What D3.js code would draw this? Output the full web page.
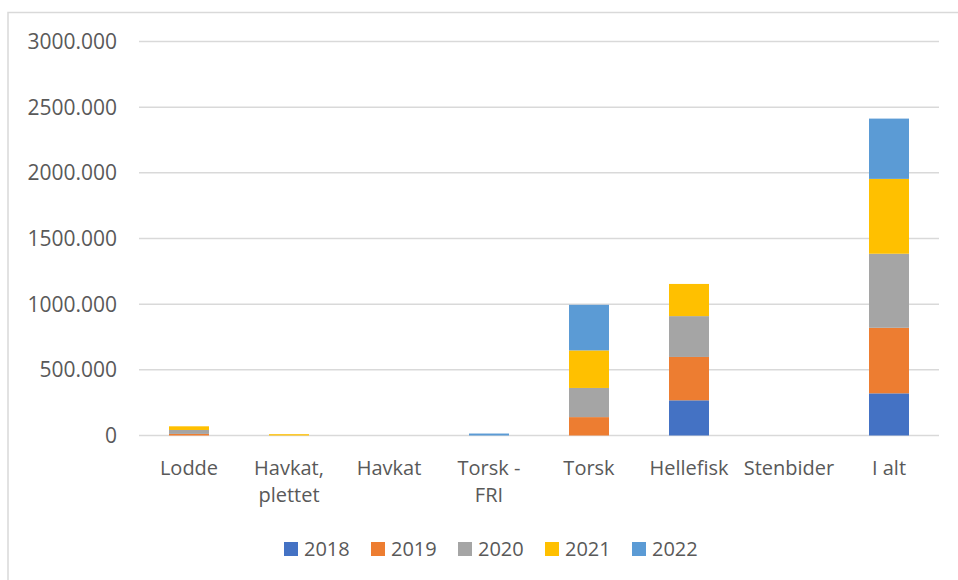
<!DOCTYPE html>
<html>
<head>
<meta charset="utf-8">
<script src="https://cdn.jsdelivr.net/npm/d3@7"></script>
<style>
  body { margin: 0; background: #fff; }
  svg { display: block; font-family: "Open Sans", sans-serif; }
</style>
</head>
<body>
<div id="chart"></div>
<script>
// categories and yearly values
const categories = ["Lodde", "Havkat, plettet", "Havkat", "Torsk - FRI", "Torsk", "Hellefisk", "Stenbider", "I alt"];
const catLabels = [["Lodde"], ["Havkat,", "plettet"], ["Havkat"], ["Torsk -", "FRI"], ["Torsk"], ["Hellefisk"], ["Stenbider"], ["I alt"]];
const years = ["2018", "2019", "2020", "2021", "2022"];
const colors = ["#4472c4", "#ed7d31", "#a5a5a5", "#ffc000", "#5b9bd5"];

const v2018 = [0, 0, 0, 0, 0, 268, 0, 321];
const v2019 = [12, 0, 0, 0, 140, 330, 0, 499];
const v2020 = [30, 0, 0, 0, 222, 311, 0, 564];
const v2021 = [28, 10, 0, 0, 286, 245, 0, 570];
const v2022 = [0, 0, 0, 15, 347, 0, 0, 459];

const yTicks = [0, 500, 1000, 1500, 2000, 2500, 3000];

const W = 958, H = 580;
const MARGIN = { LEFT: 139, RIGHT: 19, TOP: 41.5, BOTTOM: 144.5 };
const WIDTH = W - MARGIN.LEFT - MARGIN.RIGHT;
const HEIGHT = H - MARGIN.TOP - MARGIN.BOTTOM;

const svg = d3.select("#chart").append("svg")
  .attr("width", W)
  .attr("height", H);

// chart frame
svg.append("rect")
  .attr("x", 8).attr("y", 12.5)
  .attr("width", W + 10).attr("height", H + 10)
  .attr("fill", "none")
  .attr("stroke", "#d9d9d9")
  .attr("stroke-width", 1.5);

const g = svg.append("g")
  .attr("transform", `translate(${MARGIN.LEFT}, ${MARGIN.TOP})`);

// Scales
const x = d3.scaleBand().domain(categories).range([0, WIDTH]).paddingInner(0.6).paddingOuter(0.3);
const y = d3.scaleLinear().domain([0, 3000]).range([HEIGHT, 0]);

// gridlines
g.selectAll(".grid")
  .data(yTicks)
  .join("line")
  .attr("class", "grid")
  .attr("x1", 0).attr("x2", WIDTH)
  .attr("y1", d => y(d)).attr("y2", d => y(d))
  .attr("stroke", "#d9d9d9")
  .attr("stroke-width", 1.5);

// y labels
g.selectAll(".ylab")
  .data(yTicks)
  .join("text")
  .attr("class", "ylab")
  .attr("x", -22)
  .attr("y", d => y(d))
  .attr("dy", "0.36em")
  .attr("text-anchor", "end")
  .attr("fill", "#595959")
  .style("font-size", "21px")
  .text(d => d === 0 ? "0" : d3.format(".3f")(d));

// stacked bars
const table = categories.map((c, i) => ({
  cat: c, "2018": v2018[i], "2019": v2019[i], "2020": v2020[i], "2021": v2021[i], "2022": v2022[i]
}));
const series = d3.stack().keys(years)(table);

g.selectAll(".series")
  .data(series)
  .join("g")
  .attr("class", "series")
  .attr("fill", (d, i) => colors[i])
  .selectAll("rect")
  .data(d => d.filter(p => p[1] - p[0] > 0))
  .join("rect")
  .attr("x", d => x(d.data.cat))
  .attr("width", x.bandwidth())
  .attr("y", d => y(d[1]))
  .attr("height", d => y(d[0]) - y(d[1]));

// category labels
const cl = g.selectAll(".xlab")
  .data(categories)
  .join("text")
  .attr("class", "xlab")
  .attr("x", d => x(d) + x.bandwidth() / 2)
  .attr("y", HEIGHT + 39)
  .attr("text-anchor", "middle")
  .attr("fill", "#595959")
  .style("font-size", "20px");

cl.selectAll("tspan")
  .data((d, i) => catLabels[i])
  .join("tspan")
  .attr("x", function() { return d3.select(this.parentNode).attr("x"); })
  .attr("dy", (d, i) => i === 0 ? 0 : 27)
  .text(d => d);

// legend
const legend = svg.append("g")
  .attr("transform", "translate(284, 542)");

const item = legend.selectAll(".leg")
  .data(years)
  .join("g")
  .attr("class", "leg")
  .attr("transform", (d, i) => `translate(${i * 87}, 0)`);

item.append("rect")
  .attr("width", 14).attr("height", 14)
  .attr("fill", (d, i) => colors[i]);

item.append("text")
  .attr("x", 20).attr("y", 7)
  .attr("dy", "0.36em")
  .attr("fill", "#595959")
  .style("font-size", "20px")
  .text(d => d);
</script>
</body>
</html>
